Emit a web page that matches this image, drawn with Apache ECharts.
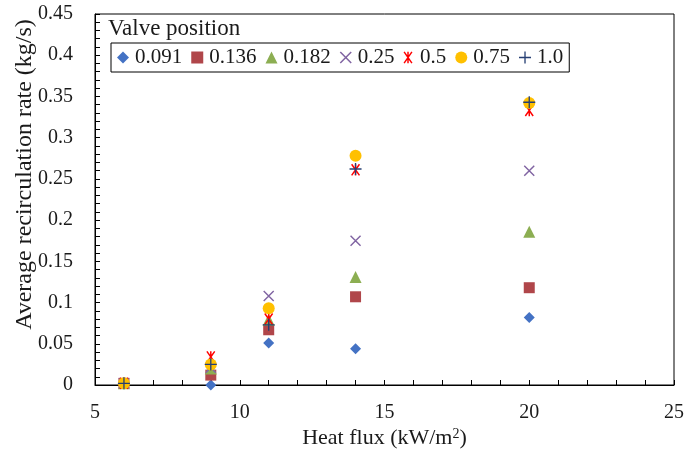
<!DOCTYPE html>
<html>
<head>
<meta charset="utf-8">
<script src="https://cdn.jsdelivr.net/npm/echarts@6/dist/echarts.min.js"></script>
<style>
  html, body { margin: 0; padding: 0; background: #fff; }
  #chart { width: 686px; height: 454px; }
</style>
</head>
<body>
<div id="chart"></div>
<script>
// Heat flux (kW/m2) at which each run was taken
const heatFlux = [6, 9, 11, 14, 20];

// Valve positions (legend entries)
const valvePositions = ['0.091', '0.136', '0.182', '0.25', '0.5', '0.75', '1.0'];

// Average recirculation rate (kg/s) per valve position, aligned with heatFlux
const rate0091 = [0.002, 0.000, 0.051, 0.044, 0.082];
const rate0136 = [0.002, 0.012, 0.067, 0.107, 0.118];
const rate0182 = [0.002, 0.020, 0.079, 0.131, 0.186];
const rate025  = [0.002, 0.021, 0.108, 0.175, 0.260];
const rate05   = [0.002, 0.034, 0.080, 0.261, 0.333];
const rate075  = [0.002, 0.025, 0.093, 0.278, 0.342];
const rate10   = [0.002, 0.025, 0.073, 0.262, 0.343];

// Axis ticks
const xTicks = { min: 5, max: 25, interval: 5 };
const yTicks = { min: 0, max: 0.45, interval: 0.05 };

// Build thin filled bars (rotated rectangles) for cross-type markers
function bar(angleDeg, halfLen, halfW) {
  const a = angleDeg * Math.PI / 180;
  const c = Math.cos(a), s = Math.sin(a);
  const pts = [[-halfLen, -halfW], [halfLen, -halfW], [halfLen, halfW], [-halfLen, halfW]]
    .map(([x, y]) => [5 + x * c - y * s, 5 + x * s + y * c]);
  return 'M' + pts.map(p => p[0].toFixed(3) + ',' + p[1].toFixed(3)).join(' L') + ' Z ';
}
const crossSymbol = 'path://' + bar(45, 6, 0.6) + bar(-45, 6, 0.6);
const plusSymbol = 'path://' + bar(0, 5, 0.55) + bar(90, 5, 0.55);
const starSymbol = 'path://' + bar(55, 6, 0.65) + bar(-55, 6, 0.65) + bar(90, 5, 0.65);

const seriesDefs = [
  { name: valvePositions[0], values: rate0091, symbol: 'diamond', size: 11, color: '#4472C4' },
  { name: valvePositions[1], values: rate0136, symbol: 'rect', size: 11, color: '#B0464A' },
  { name: valvePositions[2], values: rate0182, symbol: 'triangle', size: 12, color: '#8CAE52' },
  { name: valvePositions[3], values: rate025, symbol: crossSymbol, size: 11, color: '#8064A2' },
  { name: valvePositions[4], values: rate05, symbol: starSymbol, size: 12, color: '#FF0000' },
  { name: valvePositions[5], values: rate075, symbol: 'circle', size: 12, color: '#FFC000' },
  { name: valvePositions[6], values: rate10, symbol: plusSymbol, size: 12, color: '#263F73' }
];

const font = 'Liberation Serif, Times New Roman, serif';
const textColor = '#1a1a1a';

const chart = echarts.init(document.getElementById('chart'), null, { renderer: 'canvas' });
chart.setOption({
  animation: false,
  backgroundColor: '#fff',
  textStyle: { fontFamily: font },
  title: {
    text: 'Valve position',
    left: 108,
    top: 17,
    padding: 0,
    textStyle: { fontFamily: font, fontSize: 23, fontWeight: 'normal', color: textColor }
  },
  legend: {
    left: 111,
    top: 43,
    padding: [4, 6, 4, 6],
    borderColor: '#000',
    borderWidth: 1,
    itemGap: 9,
    itemWidth: 12,
    itemHeight: 12,
    textStyle: { fontFamily: font, fontSize: 21, color: textColor, padding: [0, 0, 0, 1] },
    data: valvePositions
  },
  grid: {
    left: 95, right: 12, top: 14, bottom: 69,
    outerBoundsMode: 'none',
    containLabel: false,
    show: true,
    borderColor: '#000',
    borderWidth: 1
  },
  xAxis: {
    type: 'value',
    min: xTicks.min, max: xTicks.max, interval: xTicks.interval,
    name: 'Heat flux (kW/m{sup|2})',
    nameLocation: 'middle',
    nameGap: 42,
    nameMoveOverlap: false,
    nameTextStyle: {
      fontFamily: font, fontSize: 22, color: textColor,
      rich: { sup: { fontFamily: font, fontSize: 14, verticalAlign: 'top', color: textColor, padding: [0, 0, 8, 0] } }
    },
    axisLine: { show: true, lineStyle: { color: '#000', width: 1 } },
    axisTick: { show: true, inside: true, length: 5, lineStyle: { color: '#000' } },
    minorTick: { show: true, splitNumber: 5, length: 5, lineStyle: { color: '#000' } },
    axisLabel: { fontFamily: font, fontSize: 20, color: textColor, margin: 18 },
    splitLine: { show: false }
  },
  yAxis: {
    type: 'value',
    min: yTicks.min, max: yTicks.max, interval: yTicks.interval,
    name: 'Average recirculation rate (kg/s)',
    nameLocation: 'middle',
    nameGap: 58,
    nameMoveOverlap: false,
    nameTextStyle: { fontFamily: font, fontSize: 24, color: textColor, padding: [0, 0, 0, 50] },
    axisLine: { show: true, lineStyle: { color: '#000', width: 1 } },
    axisTick: { show: true, inside: true, length: 5, lineStyle: { color: '#000' } },
    minorTick: { show: true, splitNumber: 5, length: 5, lineStyle: { color: '#000' } },
    axisLabel: { fontFamily: font, fontSize: 20, color: textColor, margin: 22 },
    splitLine: { show: false }
  },
  series: seriesDefs.map(d => ({
    name: d.name,
    type: 'scatter',
    symbol: d.symbol,
    symbolSize: d.size,
    symbolKeepAspect: true,
    itemStyle: { color: d.color, opacity: 1 },
    data: heatFlux.map((x, i) => [x, d.values[i]])
  }))
});
</script>
</body>
</html>
